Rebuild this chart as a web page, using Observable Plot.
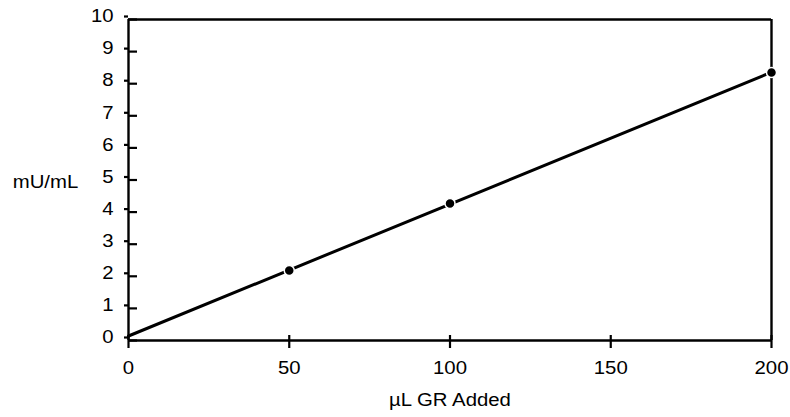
<!DOCTYPE html>
<html>
<head>
<meta charset="utf-8">
<script src="https://cdn.jsdelivr.net/npm/d3@7"></script>
<script src="https://cdn.jsdelivr.net/npm/@observablehq/plot@0.6"></script>
<style>
  html, body { margin: 0; padding: 0; background: #fff; }
  #chart svg { display: block; }
</style>
</head>
<body>
<div id="chart"></div>
<script>
// Data
const volumeAdded = [50, 100, 200];      // µL GR Added
const activity = [2.18, 4.27, 8.35];     // mU/mL
const xTicks = [0, 50, 100, 150, 200];
const yTicks = [0, 1, 2, 3, 4, 5, 6, 7, 8, 9, 10];
const xDomain = [0, 200];
const yDomain = [0, 10];
const xLabel = "µL GR Added";
const yLabel = "mU/mL";

const points = volumeAdded.map((x, i) => ({x, y: activity[i]}));

// least-squares fit over the data, drawn across the full x domain
const mx = d3.mean(volumeAdded), my = d3.mean(activity);
const slope = d3.sum(points, d => (d.x - mx) * (d.y - my)) / d3.sum(points, d => (d.x - mx) ** 2);
const intercept = my - slope * mx;
const fit = xDomain.map(x => ({x, y: intercept + slope * x}));

const font = "Liberation Sans, Arial, Helvetica, sans-serif";
const fs = 18;

const chart = Plot.plot({
  width: 790,
  height: 417,
  marginTop: 19,
  marginRight: 19,
  marginBottom: 77,
  marginLeft: 128,
  style: {fontFamily: font, fontSize: fs + "px", color: "#000", background: "#fff"},
  x: {domain: xDomain},
  y: {domain: yDomain},
  marks: [
    // outward ticks with labels
    Plot.axisX({ticks: xTicks, tickSize: 8, tickPadding: 13, strokeWidth: 2.2, fontSize: fs, label: null}),
    Plot.axisY({ticks: yTicks, tickSize: 4, tickPadding: 11, strokeWidth: 2.2, fontSize: fs, dy: -3, label: null}),
    // inward tick portions
    Plot.axisX({ticks: xTicks, tickSize: -5, strokeWidth: 2.2, tickFormat: () => "", label: null}),
    Plot.axisY({ticks: yTicks, tickSize: -9, strokeWidth: 2.2, tickFormat: () => "", label: null}),
    // frame lines
    Plot.ruleX([xDomain[0]], {strokeWidth: 2.4}),
    Plot.ruleX([xDomain[1]], {strokeWidth: 2.4}),
    Plot.ruleY([yDomain[0]], {strokeWidth: 2.4}),
    Plot.ruleY([yDomain[1]], {strokeWidth: 2.4}),
    // fitted line
    Plot.line(fit, {x: "x", y: "y", stroke: "#000", strokeWidth: 3}),
    // data points
    Plot.dot(points, {x: "x", y: "y", r: 5, fill: "#000", stroke: "#fff", strokeWidth: 1.5}),
    // axis titles
    Plot.text([yLabel], {frameAnchor: "left", dx: -83, dy: 2, text: d => d, fontSize: fs, textAnchor: "middle"}),
    Plot.text([xLabel], {frameAnchor: "bottom", dy: 65, text: d => d, fontSize: fs, textAnchor: "middle"})
  ]
});
document.getElementById("chart").appendChild(chart);

// the reference's lettering is slightly wider than Arial: stretch glyphs horizontally
chart.querySelectorAll("text").forEach(t => {
  const len = t.getComputedTextLength();
  if (len > 0) {
    t.setAttribute("textLength", (len * 1.13).toFixed(1));
    t.setAttribute("lengthAdjust", "spacingAndGlyphs");
  }
});
</script>
</body>
</html>
